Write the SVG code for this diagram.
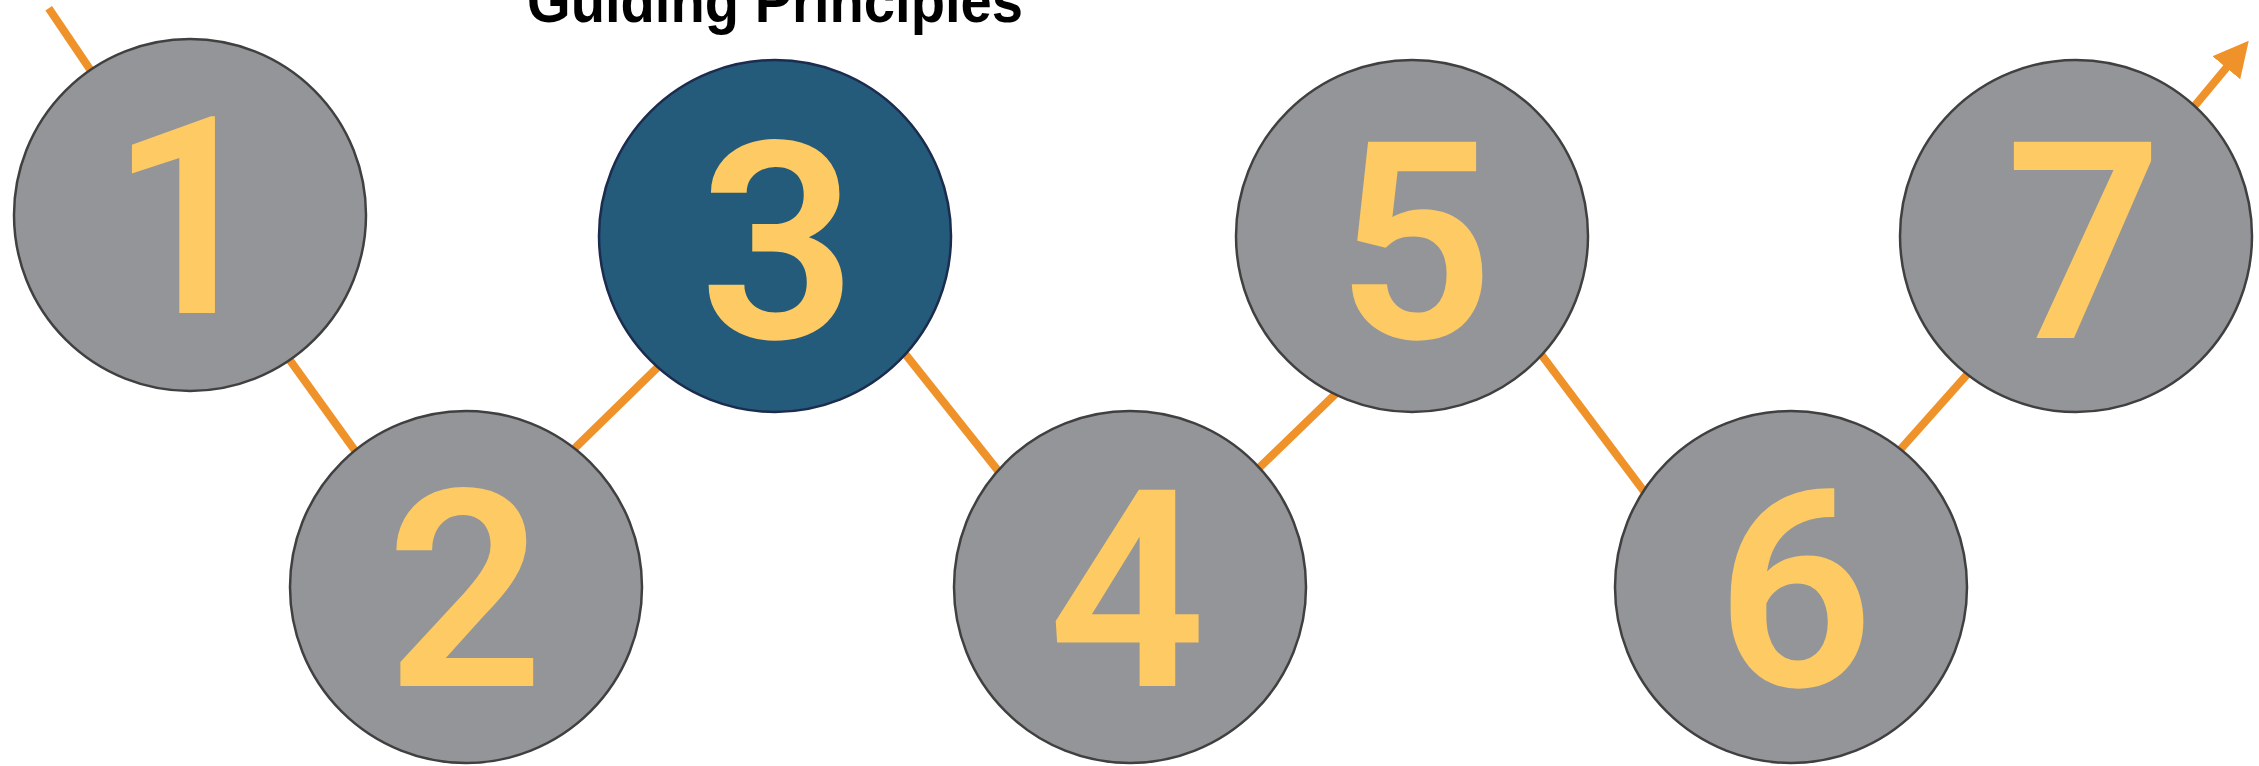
<svg xmlns="http://www.w3.org/2000/svg" width="2259" height="766" viewBox="0 0 2259 766">
<style>
.bg{fill:#ffffff}
.conn{stroke:#EF9229;stroke-width:8;fill:none;stroke-linecap:butt}
.node{fill:#939598;stroke:#404041;stroke-width:2.5}
.node-active{fill:#245B7A;stroke:#1B2C4E;stroke-width:2.5}
.num{font-family:Roboto,"Liberation Sans",Arial,sans-serif;font-weight:600;font-size:276px;fill:#FDCA63;text-anchor:middle}
.title{font-family:"Liberation Sans",Arial,sans-serif;font-weight:bold;font-size:62px;fill:#000000;text-anchor:middle}
</style>
<defs>
<marker id="arrow" viewBox="0 0 36 36" refX="1" refY="18" markerWidth="36" markerHeight="36" markerUnits="userSpaceOnUse" orient="auto">
<path d="M0,0 L35,18 L0,36 Z" fill="#EF9229"/>
</marker>
</defs>
<rect class="bg" x="0" y="0" width="2259" height="766"/>
<text class="title" x="775" y="22" textLength="496" lengthAdjust="spacingAndGlyphs">Guiding Principles</text>
<g id="connectors">
<line class="conn" x1="48.7" y1="8.3" x2="130" y2="128.5"/>
<line class="conn" x1="240" y1="291" x2="405" y2="520"/>
<line class="conn" x1="508.6" y1="512.8" x2="724.4" y2="302.2"/>
<line class="conn" x1="835.8" y1="266.7" x2="1068.2" y2="558.9"/>
<line class="conn" x1="1200" y1="525" x2="1396.8" y2="334.7"/>
<line class="conn" x1="1478.2" y1="270.8" x2="1704.8" y2="572.2"/>
<line class="conn" x1="1849.7" y1="506.4" x2="2018.7" y2="316.6"/>
<line class="conn" x1="2131.6" y1="181.6" x2="2227" y2="67" marker-end="url(#arrow)"/>
</g>
<g id="node1">
<circle class="node" cx="190" cy="215" r="176"/>
<text class="num" x="188" y="313">1</text>
</g>
<g id="node2">
<circle class="node" cx="466" cy="587" r="176"/>
<text class="num" x="465" y="686">2</text>
</g>
<g id="node3">
<circle class="node-active" cx="775" cy="236" r="176"/>
<text class="num" x="778" y="338">3</text>
</g>
<g id="node4">
<circle class="node" cx="1130" cy="587" r="176"/>
<text class="num" x="1127" y="686">4</text>
</g>
<g id="node5">
<circle class="node" cx="1412" cy="236" r="176"/>
<text class="num" x="1415" y="338">5</text>
</g>
<g id="node6">
<circle class="node" cx="1791" cy="587" r="176"/>
<text class="num" x="1795" y="686">6</text>
</g>
<g id="node7">
<circle class="node" cx="2076" cy="236" r="176"/>
<text class="num" x="2084" y="338">7</text>
</g>
</svg>
